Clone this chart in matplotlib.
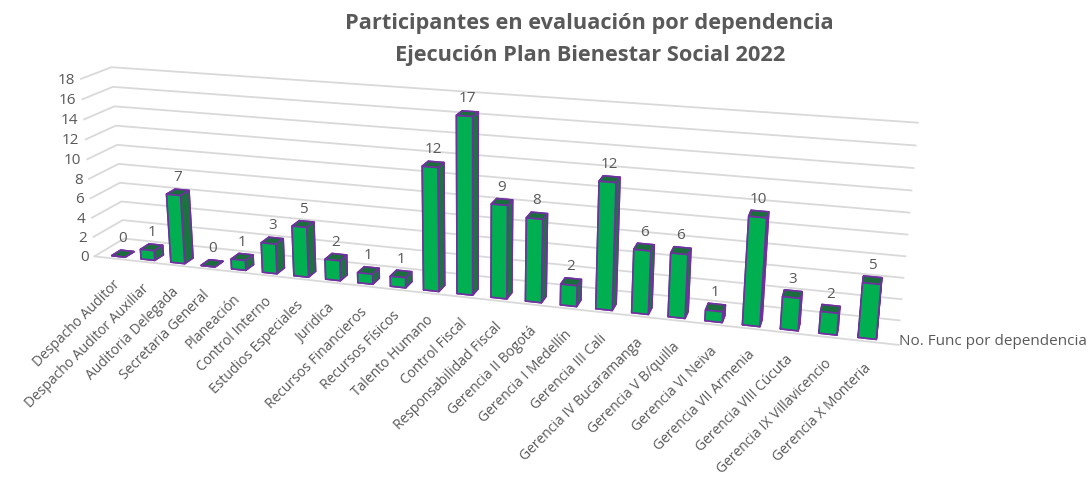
import numpy as np
import matplotlib
matplotlib.use("Agg")
import matplotlib.pyplot as plt
from matplotlib.transforms import offset_copy
from mpl_toolkits.mplot3d import proj3d

categorias = ["Despacho Auditor", "Despacho Auditor Auxiliar", "Auditoria Delegada",
              "Secretaria General", "Planeación", "Control Interno", "Estudios Especiales",
              "Juridica", "Recursos Financieros", "Recursos Físicos", "Talento Humano",
              "Control Fiscal", "Responsabilidad Fiscal", "Gerencia II Bogotá",
              "Gerencia I Medellín", "Gerencia III Cali", "Gerencia IV Bucaramanga",
              "Gerencia V B/quilla", "Gerencia VI Neiva", "Gerencia VII Armenia",
              "Gerencia VIII Cúcuta", "Gerencia IX Villavicencio", "Gerencia X Monteria"]
valores = [0, 1, 7, 0, 1, 3, 5, 2, 1, 1, 12, 17, 9, 8, 2, 12, 6, 6, 1, 10, 3, 2, 5]
ticks_z = [0, 2, 4, 6, 8, 10, 12, 14, 16, 18]
serie = "No. Func por dependencia"
titulo = "Participantes en evaluación por dependencia\nEjecución Plan Bienestar Social 2022"

gris = "#595959"
plt.rcParams['font.family'] = ['Open Sans', 'DejaVu Sans']

fig = plt.figure(figsize=(10.88, 4.85), dpi=100)
# caja cuadrada (mplot3d la fuerza cuadrada de todos modos)
ax = fig.add_axes([0.0105, -0.357, 0.827, 1.856], projection='3d')
ax.set_proj_type('persp', focal_length=0.3)
ax.view_init(elev=17, azim=-73)

n = len(valores)
xs = np.arange(n)
bw = 0.46
y0, y1 = 0.0, 1.0
cara = ['#00B050', '#1A6E3C', '#00B050', '#00B050', '#00B050', '#1B7440']
barras = ax.bar3d(xs - bw / 2, np.full(n, 0.12), np.zeros(n), bw, 0.3, valores,
                  color=cara * n, edgecolor='#7030A0', linewidth=1.2, shade=False)
barras.set_clip_on(False)

xlo, xhi = -0.7, n - 0.2
ax.set_xlim(xlo, xhi)
ax.set_ylim(y0, y1)
ax.set_zlim(0, 18)
ax.set_box_aspect((12, 0.9, 2.8), zoom=0.93)

ax.set_xticks([])
ax.set_yticks([])
ax.set_zticks(ticks_z)
ax.set_zticklabels([])
for eje in (ax.xaxis, ax.yaxis, ax.zaxis):
    eje.set_pane_color((1, 1, 1, 0))
    eje.pane.set_edgecolor((1, 1, 1, 0))
    eje.line.set_color((1, 1, 1, 0))
    eje._axinfo['grid']['color'] = '#D9D9D9'
    eje._axinfo['grid']['linewidth'] = 1.3
    eje._axinfo['tick']['inward_factor'] = 0
    eje._axinfo['tick']['outward_factor'] = 0

# borde frontal del piso
borde, = ax.plot([xlo, xhi], [y0, y0], [0, 0], color='#D9D9D9', lw=1.3)
borde.set_clip_on(False)

fig.canvas.draw()
M = ax.M


def en_pantalla(x, y, z):
    px, py, _ = proj3d.proj_transform(x, y, z, M)
    return px, py


for t in ticks_z:
    px, py = en_pantalla(xlo, y0, t)
    ax.text2D(px, py, str(t), ha='right', va='center', color=gris, fontsize=11,
              transform=offset_copy(ax.transData, fig, x=-4, y=0, units='points'))

for x, v, c in zip(xs, valores, categorias):
    px, py = en_pantalla(x, 0.27, v)
    ax.text2D(px, py, str(v), ha='center', va='bottom', color=gris, fontsize=11,
              transform=offset_copy(ax.transData, fig, x=0, y=6, units='points'))
    px, py = en_pantalla(x, y0, 0)
    ax.text2D(px, py, c, ha='right', va='top', rotation=45, rotation_mode='anchor',
              color=gris, fontsize=10,
              transform=offset_copy(ax.transData, fig, x=-2, y=-13, units='points'))

fig.text(0.542, 0.918, titulo, ha='center', va='center', fontsize=15.7,
         fontweight='bold', color=gris, linespacing=1.7)
fig.text(0.826, 0.295, serie, ha='left', va='center', fontsize=11, color=gris)

fig.savefig("out.png", dpi=100)
